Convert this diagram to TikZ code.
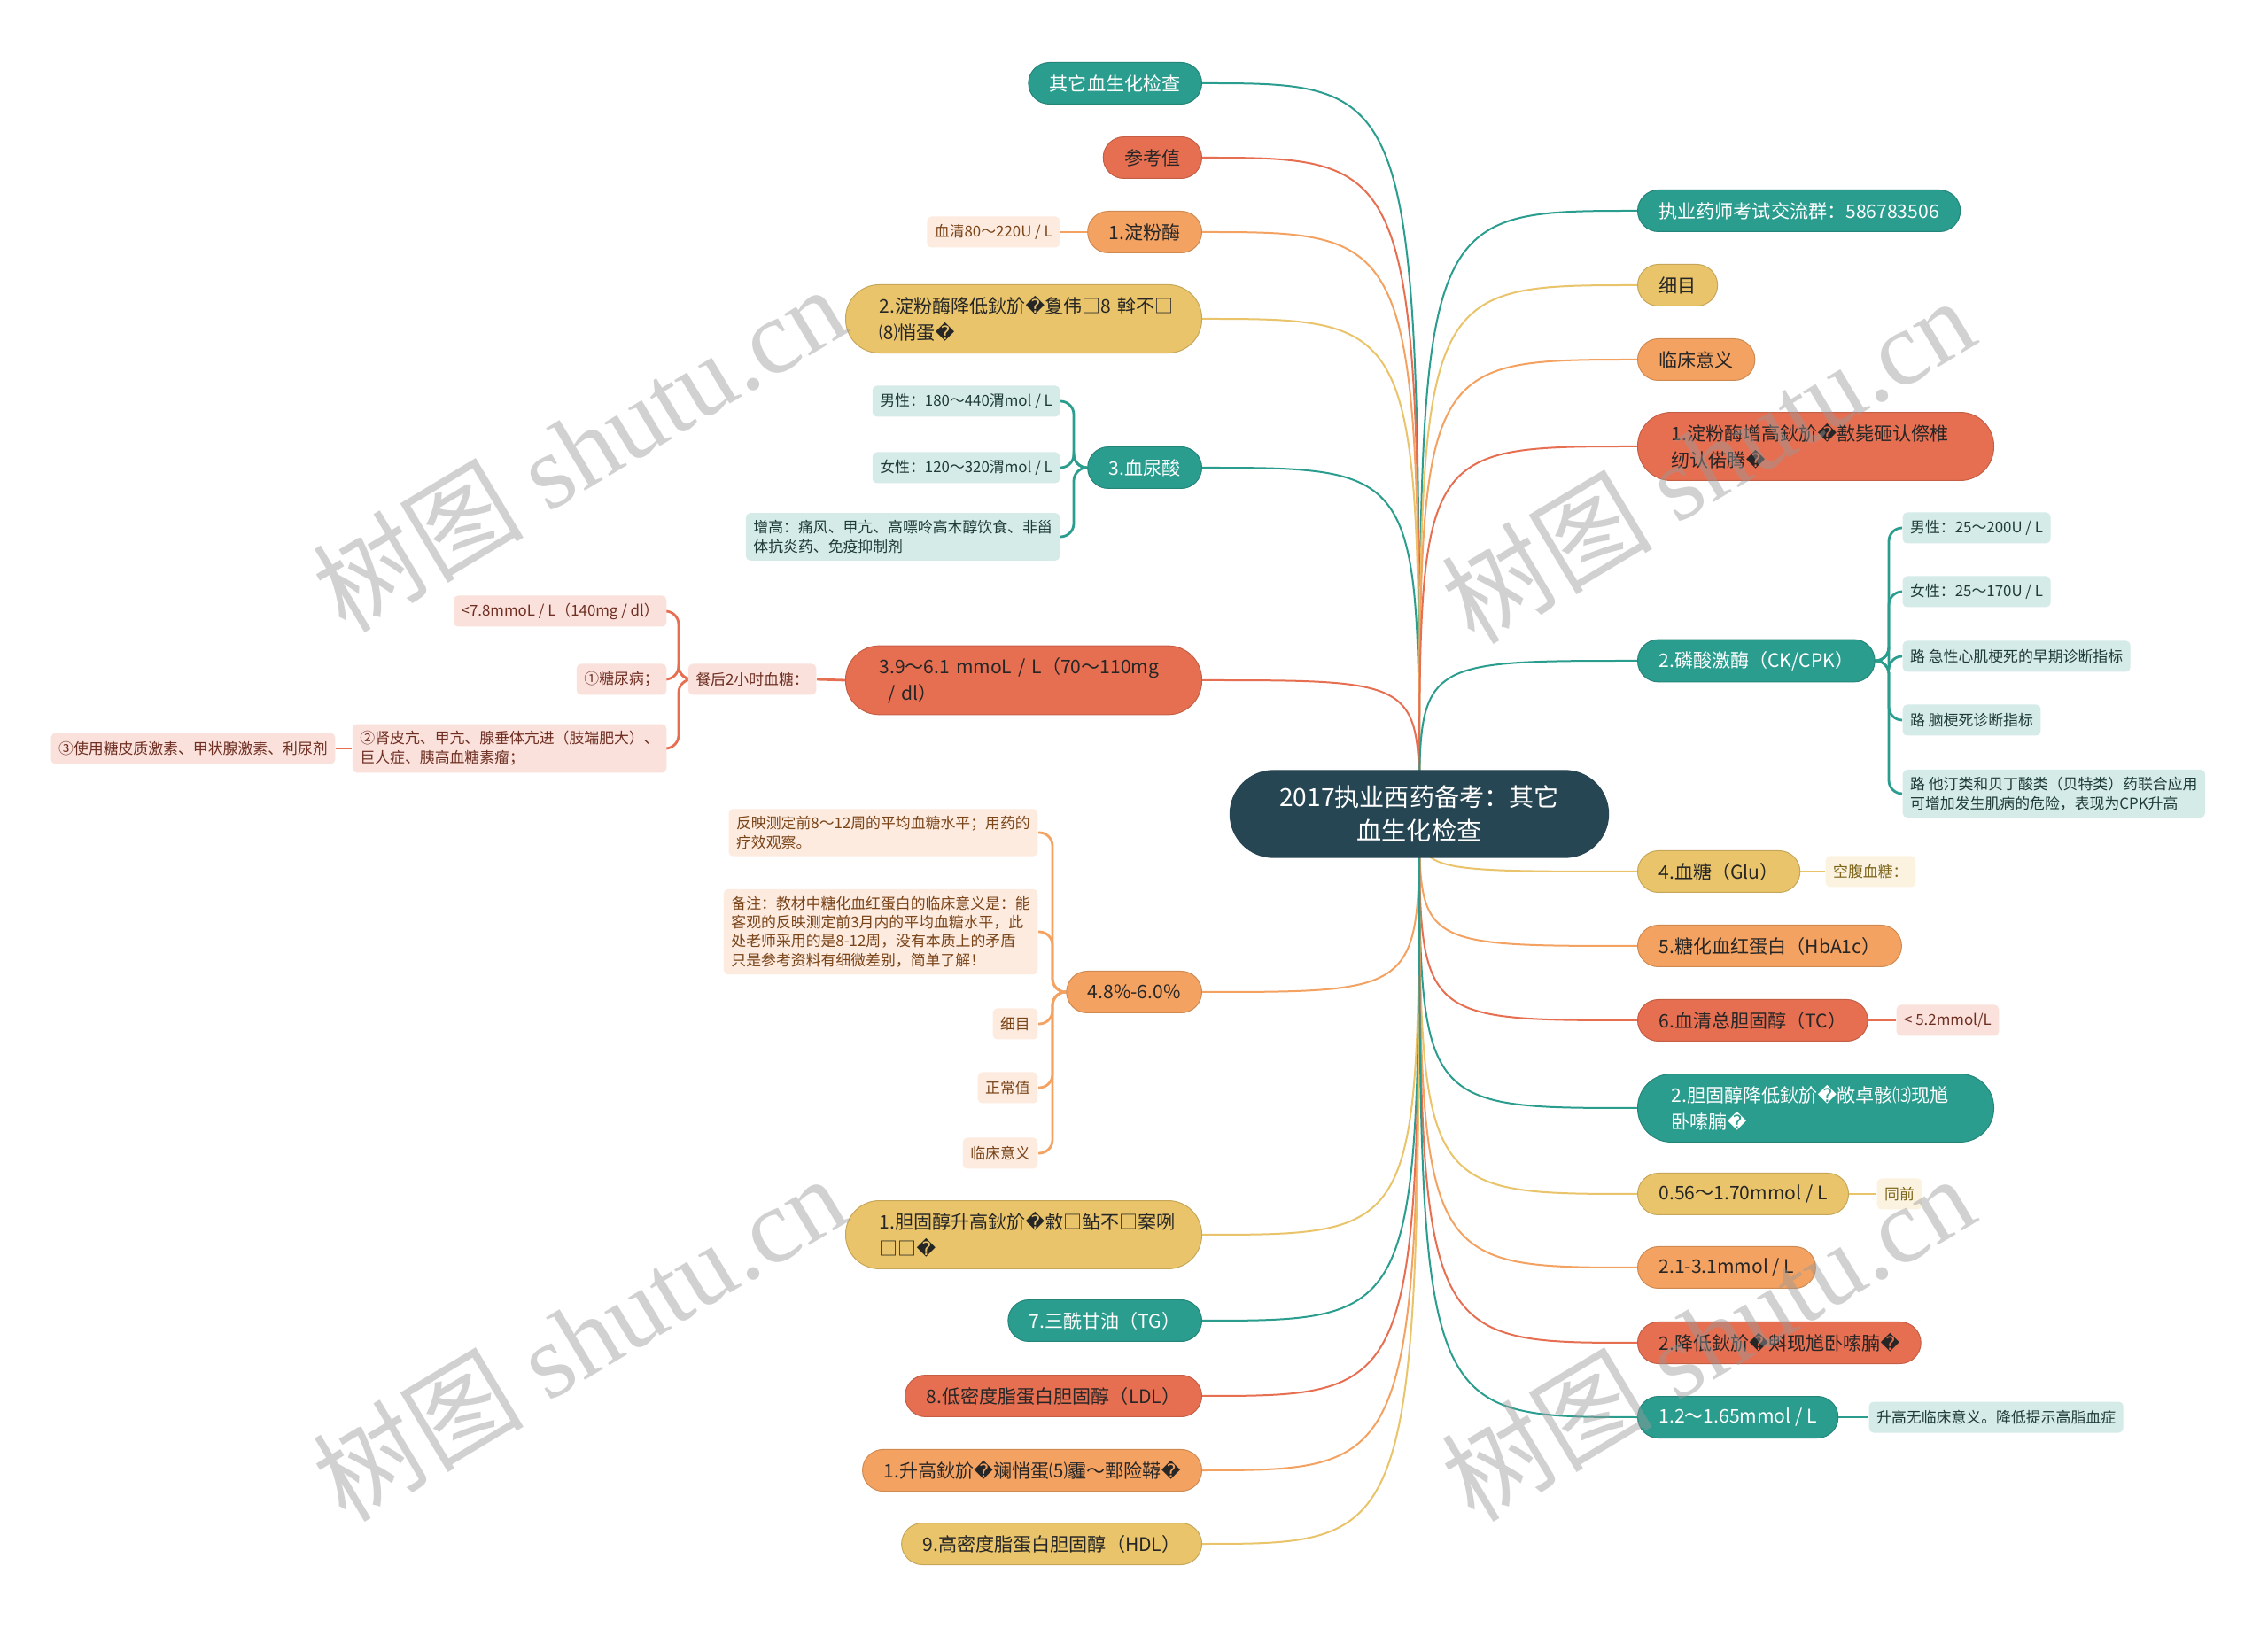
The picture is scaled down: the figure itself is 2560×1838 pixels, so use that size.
\documentclass[tikz,border=0pt]{standalone}
\usepackage{fontspec}
\setmainfont{Noto Sans CJK SC}
\newfontfamily\dejavu{DejaVu Sans}
\newfontfamily\wmserif{Liberation Serif}
\usetikzlibrary{backgrounds}

\definecolor{mmDeep}{HTML}{264653}
\definecolor{mmTeal}{HTML}{2A9D8F}
\definecolor{mmRed}{HTML}{E76F51}
\definecolor{mmOrange}{HTML}{F4A261}
\definecolor{mmYellow}{HTML}{E9C46A}
\definecolor{mmTealBg}{HTML}{D5EBE8}
\definecolor{mmRedBg}{HTML}{FAE1DB}
\definecolor{mmOrangeBg}{HTML}{FDEBDF}
\definecolor{mmYellowBg}{HTML}{FBF3E0}
\definecolor{mmTealTx}{HTML}{1F3B38}
\definecolor{mmRedTx}{HTML}{6E2E22}
\definecolor{mmOrangeTx}{HTML}{7A4419}
\definecolor{mmYellowTx}{HTML}{7D6418}

\newcommand\mainsize{\fontsize{6pt}{8.5pt}\selectfont}
\newcommand\notesize{\fontsize{4.8pt}{6.2pt}\selectfont}
\newcommand\titlesize{\fontsize{8pt}{10.8pt}\selectfont}
\newcommand\repch{{\dejavu\symbol{"FFFD}}}

\tikzset{
  rootnode/.style={fill=mmDeep, draw=mmDeep, text=white, rounded corners=4.9mm,
    minimum width=42.7mm, minimum height=9.8mm, align=center, font=\titlesize},
  topic/.style={rounded corners=2.35mm, minimum height=4.7mm, inner xsep=2.4mm,
    inner ysep=1.3mm, font=\mainsize, line width=0.1mm},
  twoline/.style={rounded corners=3.8mm, text width=32.6mm, align=left, inner xsep=3.8mm},
  tealtopic/.style={topic, fill=mmTeal, draw=mmTeal!85!black, text=white},
  redtopic/.style={topic, fill=mmRed, draw=mmRed!85!black, text=black!85},
  orangetopic/.style={topic, fill=mmOrange, draw=mmOrange!85!black, text=black!85},
  yellowtopic/.style={topic, fill=mmYellow, draw=mmYellow!85!black, text=black!85},
  note/.style={rounded corners=0.5mm, inner xsep=0.85mm, inner ysep=0.8mm,
    minimum height=3.5mm, font=\notesize, align=left},
  tealnote/.style={note, fill=mmTealBg, text=mmTealTx},
  rednote/.style={note, fill=mmRedBg, text=mmRedTx},
  orangenote/.style={note, fill=mmOrangeBg, text=mmOrangeTx},
  yellownote/.style={note, fill=mmYellowBg, text=mmYellowTx},
  link/.style={line width=0.2mm},
  stub/.style={line width=0.28mm},
  fork/.style={line width=0.28mm, rounded corners=1.5mm},
  wmark/.style={font=\fontsize{34pt}{34pt}\selectfont, text=black!40, opacity=0.45}
}

\begin{document}
\begin{tikzpicture}[x=0.1mm, y=-0.1mm]
        \useasboundingbox (0,0) rectangle (2560,1838);
        \node[rootnode] (ctr) at (1602,919) {2017执业西药备考：其它\\血生化检查};

        \node[tealtopic, anchor=east] (L1) at (1357,94) {其它血生化检查};
        \node[redtopic, anchor=east] (L2) at (1357,178) {参考值};
        \node[orangetopic, anchor=east] (L3) at (1357,262) {1.淀粉酶};
        \node[orangenote, anchor=east] (L3a) at (1197,262) {血清80～220U / L};
        \node[yellowtopic, twoline, anchor=east] (L4) at (1357,360) {2.淀粉酶降低鈥斺\repch 夐伟□8~斡不□\\⑻悄蛋\repch};
        \node[tealtopic, anchor=east] (L5) at (1357,528) {3.血尿酸};
        \node[tealnote, anchor=east] (L5a) at (1197,453) {男性：180～440渭mol / L};
        \node[tealnote, anchor=east] (L5b) at (1197,528) {女性：120～320渭mol / L};
        \node[tealnote, anchor=east] (L5c) at (1197,606) {增高：痛风、甲亢、高嘌呤高木醇饮食、非甾\\体抗炎药、免疫抑制剂};
        \coordinate (L5f) at (1212,528);
        \node[redtopic, twoline, anchor=east] (L6) at (1357,768) {3.9～6.1 mmoL / L（70～110mg\\\hspace{1mm}/ dl）};
        \node[rednote, anchor=east] (L6a) at (922,767) {餐后2小时血糖：};
        \coordinate (L6f) at (766,767);
        \node[rednote, anchor=east] (L6b) at (753,690) {<7.8mmoL / L（140mg / dl）};
        \node[rednote, anchor=east] (L6c) at (753,767) {①糖尿病；};
        \node[rednote, anchor=east] (L6d) at (753,845) {②肾皮亢、甲亢、腺垂体亢进（肢端肥大）、\\巨人症、胰高血糖素瘤；};
        \node[rednote, anchor=east] (L6e) at (379,845) {③使用糖皮质激素、甲状腺激素、利尿剂};
        \node[orangetopic, anchor=east] (L7) at (1357,1120) {4.8\%-6.0\%};
        \coordinate (L7f) at (1188,1120);
        \node[orangenote, anchor=east] (L7a) at (1172,940) {反映测定前8～12周的平均血糖水平；用药的\\疗效观察。};
        \node[orangenote, anchor=east, font=\fontsize{4.8pt}{6.1pt}\selectfont] (L7b) at (1172,1052) {备注：教材中糖化血红蛋白的临床意义是：能\\客观的反映测定前3月内的平均血糖水平，此\\处老师采用的是8-12周，没有本质上的矛盾\\只是参考资料有细微差别，简单了解！};
        \node[orangenote, anchor=east] (L7c) at (1172,1156) {细目};
        \node[orangenote, anchor=east] (L7d) at (1172,1228) {正常值};
        \node[orangenote, anchor=east] (L7e) at (1172,1302) {临床意义};
        \node[yellowtopic, twoline, anchor=east] (L8) at (1357,1394) {1.胆固醇升高鈥斺\repch 敹□鲇不□案咧\\□□\repch};
        \node[tealtopic, anchor=east] (L9) at (1357,1491) {7.三酰甘油（TG）};
        \node[redtopic, anchor=east] (L10) at (1357,1576) {8.低密度脂蛋白胆固醇（LDL）};
        \node[orangetopic, anchor=east] (L11) at (1357,1660) {1.升高鈥斺\repch 斓悄蛋⑸霾～鄄险鞯\repch};
        \node[yellowtopic, anchor=east] (L12) at (1357,1743) {9.高密度脂蛋白胆固醇（HDL）};

        \node[tealtopic, anchor=west] (R1) at (1848,238) {执业药师考试交流群：586783506};
        \node[yellowtopic, anchor=west] (R2) at (1848,322) {细目};
        \node[orangetopic, anchor=west] (R3) at (1848,406) {临床意义};
        \node[redtopic, twoline, anchor=west] (R4) at (1848,504) {1.淀粉酶增高鈥斺\repch 敾毙砸认傺椎\\纫认偌腾\repch};
        \node[tealtopic, anchor=west] (R5) at (1848,746) {2.磷酸激酶（CK/CPK）};
        \coordinate (R5f) at (2132,746);
        \node[tealnote, anchor=west] (R5a) at (2147,596) {男性：25～200U / L};
        \node[tealnote, anchor=west] (R5b) at (2147,668) {女性：25～170U / L};
        \node[tealnote, anchor=west] (R5c) at (2147,741) {路 急性心肌梗死的早期诊断指标};
        \node[tealnote, anchor=west] (R5d) at (2147,813) {路 脑梗死诊断指标};
        \node[tealnote, anchor=west] (R5e) at (2147,896) {路 他汀类和贝丁酸类（贝特类）药联合应用\\可增加发生肌病的危险，表现为CPK升高};
        \node[yellowtopic, anchor=west] (R6) at (1848,984) {4.血糖（Glu）};
        \node[yellownote, anchor=west] (R6a) at (2060,984) {空腹血糖：};
        \node[orangetopic, anchor=west] (R7) at (1848,1068) {5.糖化血红蛋白（HbA1c）};
        \node[redtopic, anchor=west] (R8) at (1848,1152) {6.血清总胆固醇（TC）};
        \node[rednote, anchor=west] (R8a) at (2140,1152) {< 5.2mmol/L};
        \node[tealtopic, twoline, anchor=west] (R9) at (1848,1251) {2.胆固醇降低鈥斺\repch 敞卓骸⒀现馗\\卧嗦腩\repch};
        \node[yellowtopic, anchor=west] (R10) at (1848,1348) {0.56～1.70mmol / L};
        \node[yellownote, anchor=west] (R10a) at (2118,1348) {同前};
        \node[orangetopic, anchor=west] (R11) at (1848,1431) {2.1-3.1mmol / L};
        \node[redtopic, anchor=west] (R12) at (1848,1516) {2.降低鈥斺\repch 斞现馗卧嗦腩\repch};
        \node[tealtopic, anchor=west] (R13) at (1848,1600) {1.2～1.65mmol / L};
        \node[tealnote, anchor=west] (R13a) at (2109,1600) {升高无临床意义。降低提示高脂血症};

        \begin{pgfonlayer}{background}
        \fill[white] (0,0) rectangle (2560,1838);
        \draw[link, mmTeal] (ctr.center) .. controls (ctr.center |- L1.east) .. (L1.east);
        \draw[link, mmRed] (ctr.center) .. controls (ctr.center |- L2.east) .. (L2.east);
        \draw[link, mmOrange] (ctr.center) .. controls (ctr.center |- L3.east) .. (L3.east);
        \draw[link, mmYellow] (ctr.center) .. controls (ctr.center |- L4.east) .. (L4.east);
        \draw[link, mmTeal] (ctr.center) .. controls (ctr.center |- L5.east) .. (L5.east);
        \draw[link, mmRed] (ctr.center) .. controls (ctr.center |- L6.east) .. (L6.east);
        \draw[link, mmOrange] (ctr.center) .. controls (ctr.center |- L7.east) .. (L7.east);
        \draw[link, mmYellow] (ctr.center) .. controls (ctr.center |- L8.east) .. (L8.east);
        \draw[link, mmTeal] (ctr.center) .. controls (ctr.center |- L9.east) .. (L9.east);
        \draw[link, mmRed] (ctr.center) .. controls (ctr.center |- L10.east) .. (L10.east);
        \draw[link, mmOrange] (ctr.center) .. controls (ctr.center |- L11.east) .. (L11.east);
        \draw[link, mmYellow] (ctr.center) .. controls (ctr.center |- L12.east) .. (L12.east);
        \draw[link, mmTeal] (ctr.center) .. controls (ctr.center |- R1.west) .. (R1.west);
        \draw[link, mmYellow] (ctr.center) .. controls (ctr.center |- R2.west) .. (R2.west);
        \draw[link, mmOrange] (ctr.center) .. controls (ctr.center |- R3.west) .. (R3.west);
        \draw[link, mmRed] (ctr.center) .. controls (ctr.center |- R4.west) .. (R4.west);
        \draw[link, mmTeal] (ctr.center) .. controls (ctr.center |- R5.west) .. (R5.west);
        \draw[link, mmYellow] (ctr.center) .. controls (ctr.center |- R6.west) .. (R6.west);
        \draw[link, mmOrange] (ctr.center) .. controls (ctr.center |- R7.west) .. (R7.west);
        \draw[link, mmRed] (ctr.center) .. controls (ctr.center |- R8.west) .. (R8.west);
        \draw[link, mmTeal] (ctr.center) .. controls (ctr.center |- R9.west) .. (R9.west);
        \draw[link, mmYellow] (ctr.center) .. controls (ctr.center |- R10.west) .. (R10.west);
        \draw[link, mmOrange] (ctr.center) .. controls (ctr.center |- R11.west) .. (R11.west);
        \draw[link, mmRed] (ctr.center) .. controls (ctr.center |- R12.west) .. (R12.west);
        \draw[link, mmTeal] (ctr.center) .. controls (ctr.center |- R13.west) .. (R13.west);

        \draw[stub, mmOrange] (L3.west) -- (L3a.east);
        \draw[fork, mmTeal] (L5.west) -- (L5f) |- (L5a.east);
        \draw[fork, mmTeal] (L5.west) -- (L5f) |- (L5b.east);
        \draw[fork, mmTeal] (L5.west) -- (L5f) |- (L5c.east);
        \draw[stub, mmRed] (L6.west) -- (L6a.east);
        \draw[fork, mmRed] (L6a.west) -- (L6f) |- (L6b.east);
        \draw[fork, mmRed] (L6a.west) -- (L6f) |- (L6c.east);
        \draw[fork, mmRed] (L6a.west) -- (L6f) |- (L6d.east);
        \draw[stub, mmRed] (L6d.west) -- (L6e.east);
        \draw[fork, mmOrange] (L7.west) -- (L7f) |- (L7a.east);
        \draw[fork, mmOrange] (L7.west) -- (L7f) |- (L7b.east);
        \draw[fork, mmOrange] (L7.west) -- (L7f) |- (L7c.east);
        \draw[fork, mmOrange] (L7.west) -- (L7f) |- (L7d.east);
        \draw[fork, mmOrange] (L7.west) -- (L7f) |- (L7e.east);
        \draw[fork, mmTeal] (R5.east) -- (R5f) |- (R5a.west);
        \draw[fork, mmTeal] (R5.east) -- (R5f) |- (R5b.west);
        \draw[fork, mmTeal] (R5.east) -- (R5f) |- (R5c.west);
        \draw[fork, mmTeal] (R5.east) -- (R5f) |- (R5d.west);
        \draw[fork, mmTeal] (R5.east) -- (R5f) |- (R5e.west);
        \draw[stub, mmYellow] (R6.east) -- (R6a.west);
        \draw[stub, mmRed] (R8.east) -- (R8a.west);
        \draw[stub, mmYellow] (R10.east) -- (R10a.west);
        \draw[stub, mmTeal] (R13.east) -- (R13a.west);
        \end{pgfonlayer}

        \node[wmark, rotate=31] (W1) at (653,506) {树图 {\wmserif shutu.cn}};
        \node[wmark, rotate=31] (W2) at (1927,519) {树图 {\wmserif shutu.cn}};
        \node[wmark, rotate=31] (W3) at (653,1510) {树图 {\wmserif shutu.cn}};
        \node[wmark, rotate=31] (W4) at (1927,1510) {树图 {\wmserif shutu.cn}};
    \end{tikzpicture}
\end{document}
